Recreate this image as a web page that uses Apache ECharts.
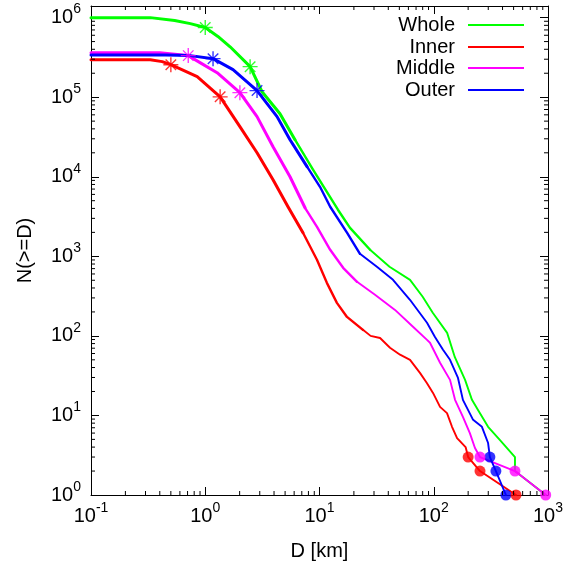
<!DOCTYPE html>
<html>
<head>
<meta charset="utf-8">
<script src="https://cdn.jsdelivr.net/npm/echarts@6/dist/echarts.min.js"></script>
<style>
html,body{margin:0;padding:0;background:#fff;}
#chart{width:577px;height:568px;}
</style>
</head>
<body>
<div id="chart"></div>
<script>
// ---- data: [D (km), N(>=D)] ----
const whole = [[0.1,1.0e6],[0.33,1.0e6],[0.54,9.2e5],[0.74,8.4e5],[1.0,7.5e5],[1.29,5.8e5],[1.65,4.3e5],[2.47,2.42e5],[3.14,1.17e5],[4.51,6.2e4],[6.1,2.92e4],[8.8,1.22e4],[14.5,3850],[18.5,2280],[27.7,1210],[41,740],[62,506],[80,310],[98,195],[131,109],[153,54],[188,28],[216,15.7],[244,11.7],[299,7.2],[380,4.9],[514,3],[514,2],[955,1]];
const inner = [[0.1,2.96e5],[0.33,2.96e5],[0.42,2.8e5],[0.5,2.56e5],[0.85,1.81e5],[1.35,1.01e5],[2.01,4.26e4],[2.84,2.0e4],[3.92,9170],[5.3,4200],[7.17,1980],[9.5,904],[11.6,464],[14.2,260],[17.4,173],[24,119],[28,100],[33.9,94],[41.4,71],[50.7,58],[62,50],[76,34],[87,25.6],[98.5,19.2],[113.5,12.8],[130.6,10.7],[144.5,7.2],[160,5.2],[190,4],[200,3],[254,2],[525,1]];
const middle = [[0.1,3.63e5],[0.4,3.63e5],[0.6,3.42e5],[0.71,3.33e5],[0.9,2.72e5],[1.27,2.03e5],[2.01,1.14e5],[2.84,5.7e4],[3.92,2.38e4],[5.52,1.0e4],[7.47,4075],[9.51,2350],[12.4,1208],[16.1,717],[21.3,478],[30.6,328],[45.8,212],[65.8,130],[87.3,89],[92.7,82],[113.5,46],[138.8,28],[153.6,15.7],[180,9.6],[207,6.0],[229.5,3.9],[254,3],[514,2],[955,1]];
const outer = [[0.1,3.38e5],[0.45,3.38e5],[0.74,3.33e5],[1.17,3.05e5],[1.75,2.22e5],[2.84,1.21e5],[4.25,5.7e4],[5.52,2.92e4],[7.78,1.34e4],[10.1,7480],[12.4,4200],[17.4,1980],[22.6,1075],[31.8,738],[44,506],[61.9,284],[87.3,146],[102.5,97],[120.5,67],[138.8,50],[163,29.6],[180,15.7],[221,8.8],[264,7.2],[299,4.5],[310,3],[350,2],[428,1]];

const wholeStars = [[1.0,7.5e5],[2.47,2.42e5]];
const innerStars = [[0.5,2.56e5],[1.35,1.01e5]];
const middleStars = [[0.71,3.33e5],[2.01,1.14e5]];
const outerStars = [[1.17,3.05e5],[2.84,1.21e5]];

const innerBig = [[200,3],[254,2],[525,1]];
const middleBig = [[254,3],[514,2],[955,1]];
const outerBig = [[310,3],[350,2],[428,1]];

const seriesNames = ['Whole','Inner','Middle','Outer'];
const seriesColors = ['#00ff00','#ff0000','#ff00ff','#0000ff'];

const xMin = 0.1, xMax = 1000, yMin = 1, yMax = 1.4e6;
const minorMult = [2,3,4,5,6,7,8,9];
const minorXExp = [-1,0,1,2];
const minorYExp = [0,1,2,3,4,5];

// ---- build ----
const F = '"Liberation Sans", Arial, Helvetica, sans-serif';
const minorX = [];
minorXExp.forEach(k => minorMult.forEach(m => minorX.push(m * Math.pow(10, k))));
const minorY = [];
minorYExp.forEach(k => minorMult.forEach(m => minorY.push(m * Math.pow(10, k))));

function powLabel(v) {
  const e = Math.log10(v);
  const r = Math.round(e);
  if (Math.abs(e - r) > 1e-6) return '';
  return '{b|10}{s|' + r + '}';
}
const rich = {
  b: {fontSize: 20, fontFamily: F, color: '#000', lineHeight: 30, verticalAlign: 'middle'},
  s: {fontSize: 14, fontFamily: F, color: '#000', lineHeight: 14, verticalAlign: 'top'}
};

// line width tiers by diameter (the reference curves are bolder at small D)
const tiers = [{upTo: 6, width: 3.0}, {upTo: 20, width: 2.4}, {upTo: Infinity, width: 1.9}];
function splitTiers(pts) {
  const out = [];
  let start = 0;
  tiers.forEach(t => {
    if (start >= pts.length - 1) return;
    let end = pts.findIndex(p => p[0] > t.upTo);
    if (end < 0) end = pts.length - 1;
    if (end > start) out.push({pts: pts.slice(start, end + 1), width: t.width});
    start = Math.max(start, end);
  });
  return out;
}

const curves = [whole, inner, middle, outer];
const stars = [wholeStars, innerStars, middleStars, outerStars];
const bigs = {1: innerBig, 2: middleBig, 3: outerBig};

const series = [];
curves.forEach((c, i) => {
  splitTiers(c).forEach(seg => {
    series.push({type: 'line', name: seriesNames[i], data: seg.pts, symbol: 'none', showSymbol: false,
      lineStyle: {color: seriesColors[i], width: seg.width, join: 'round', cap: 'round'},
      itemStyle: {color: seriesColors[i]}, z: 2, silent: true, animation: false});
  });
});
const starPath = 'path://M6,0L6,12M0,6L12,6M1.8,1.8L10.2,10.2M1.8,10.2L10.2,1.8';
stars.forEach((s, i) => {
  series.push({type: 'scatter', name: seriesNames[i] + ' marks', data: s, symbol: starPath, symbolSize: 15,
    itemStyle: {color: seriesColors[i], borderColor: seriesColors[i], borderWidth: 1.4}, z: 3, silent: true, animation: false});
});
[3, 2, 1].forEach(i => {
  series.push({type: 'scatter', name: seriesNames[i] + ' large', data: bigs[i], symbol: 'circle', symbolSize: 11,
    itemStyle: {color: seriesColors[i]}, z: 4, silent: true, animation: false});
});
// minor ticks drawn through the axis scales
series.push({
  type: 'custom', name: 'minorX', data: minorX.map(v => [v, yMin]), silent: true, z: 5, animation: false, clip: false,
  encode: {x: 0, y: 1},
  renderItem: function (params, api) {
    const p = api.coord([api.value(0), yMin]);
    const cs = params.coordSys;
    const b = cs.y + cs.height, t = cs.y;
    return {type: 'group', children: [
      {type: 'line', shape: {x1: p[0], y1: b, x2: p[0], y2: b - 4}, style: {stroke: '#000', lineWidth: 1}},
      {type: 'line', shape: {x1: p[0], y1: t, x2: p[0], y2: t + 4}, style: {stroke: '#000', lineWidth: 1}}
    ]};
  }
});
series.push({
  type: 'custom', name: 'minorY', data: minorY.map(v => [xMin, v]), silent: true, z: 5, animation: false, clip: false,
  encode: {x: 0, y: 1},
  renderItem: function (params, api) {
    const p = api.coord([xMin, api.value(1)]);
    const cs = params.coordSys;
    const l = cs.x, r = cs.x + cs.width;
    return {type: 'group', children: [
      {type: 'line', shape: {x1: l, y1: p[1], x2: l + 4, y2: p[1]}, style: {stroke: '#000', lineWidth: 1}},
      {type: 'line', shape: {x1: r, y1: p[1], x2: r - 4, y2: p[1]}, style: {stroke: '#000', lineWidth: 1}}
    ]};
  }
});

const legendTops = [15, 37, 58, 80];
const legends = seriesNames.map((n, i) => ({
  data: [n], right: 53, top: legendTops[i], orient: 'vertical', align: 'right', padding: 0,
  icon: 'rect', itemWidth: 56, itemHeight: 2, selectedMode: false,
  textStyle: {fontSize: 20, fontFamily: F, color: '#000', padding: [0, 8, 0, 0]}
}));

const axisLine = {show: true, onZero: false, lineStyle: {color: '#000', width: 1}};
const axisTick = {show: true, inside: true, length: 8, lineStyle: {color: '#000', width: 1}};

const option = {
  backgroundColor: '#fff',
  animation: false,
  legend: legends,
  grid: {left: 91, right: 29, top: 6, bottom: 73, containLabel: false},
  xAxis: [
    {type: 'log', logBase: 10, min: xMin, max: xMax, interval: 1, position: 'bottom',
      axisLine: axisLine, axisTick: axisTick, splitLine: {show: false}, minorTick: {show: false},
      axisLabel: {formatter: powLabel, rich: rich, margin: 6, showMinLabel: true, showMaxLabel: true},
      name: 'D [km]', nameLocation: 'middle', nameGap: 46,
      nameTextStyle: {fontSize: 20, fontFamily: F, color: '#000'}},
    {type: 'log', logBase: 10, min: xMin, max: xMax, interval: 1, position: 'top',
      axisLine: axisLine, axisTick: axisTick, splitLine: {show: false}, axisLabel: {show: false}}
  ],
  yAxis: [
    {type: 'log', logBase: 10, min: yMin, max: yMax, interval: 1, position: 'left',
      axisLine: axisLine, axisTick: axisTick, splitLine: {show: false}, minorTick: {show: false},
      axisLabel: {formatter: powLabel, rich: rich, margin: 10, showMinLabel: true},
      name: 'N(>=D)', nameLocation: 'middle', nameGap: 56,
      nameTextStyle: {fontSize: 20, fontFamily: F, color: '#000'}},
    {type: 'log', logBase: 10, min: yMin, max: yMax, interval: 1, position: 'right',
      axisLine: axisLine, axisTick: axisTick, splitLine: {show: false}, axisLabel: {show: false}}
  ],
  series: series
};

const chart = echarts.init(document.getElementById('chart'), null, {renderer: 'canvas'});
chart.setOption(option);
</script>
</body>
</html>
